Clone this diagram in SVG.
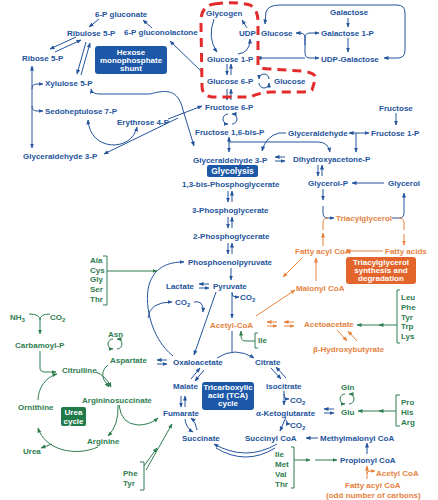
<svg xmlns="http://www.w3.org/2000/svg" width="438" height="500" viewBox="0 0 438 500">
<style>
text{font-family:"Liberation Sans",Arial,sans-serif;font-weight:bold;font-size:8px}
.b{fill:#24549c}.g{fill:#2e7d50}.o{fill:#e5823f}.w{fill:#fff;text-anchor:middle}
.lb{stroke:#24549c;fill:none;stroke-width:1}
.lg{stroke:#2e7d50;fill:none;stroke-width:1}
.lo{stroke:#e5823f;fill:none;stroke-width:1}
.lb.e{marker-end:url(#ab)}.lb.s{marker-start:url(#ab)}
.lg.e{marker-end:url(#ag)}
.lo.e{marker-end:url(#ao)}
.sub{font-size:6px}
</style>
<defs>
<marker id="ab" viewBox="0 0 10 10" refX="9" refY="5" markerWidth="5" markerHeight="5" markerUnits="userSpaceOnUse" orient="auto-start-reverse"><path d="M0,1 L10,5 L0,9 Z" fill="#24549c"/></marker>
<marker id="ag" viewBox="0 0 10 10" refX="9" refY="5" markerWidth="5" markerHeight="5" markerUnits="userSpaceOnUse" orient="auto-start-reverse"><path d="M0,1 L10,5 L0,9 Z" fill="#2e7d50"/></marker>
<marker id="ao" viewBox="0 0 10 10" refX="9" refY="5" markerWidth="5" markerHeight="5" markerUnits="userSpaceOnUse" orient="auto-start-reverse"><path d="M0,1 L10,5 L0,9 Z" fill="#e5823f"/></marker>
<g id="vdB"><path class="lb e" d="M-2,0 L-2,11"/><path class="lb e" d="M2,11 L2,0"/></g>
<g id="hpB"><path class="lb e" d="M10,-2 L0,-2"/><path class="lb e" d="M0,2 L10,2"/></g>
<g id="hpO"><path class="lo e" d="M10,-2 L0,-2"/><path class="lo e" d="M0,2 L10,2"/></g>
<g id="crB"><path class="lb e" d="M-2,-5 A5,5 0 0 0 -2,5"/><path class="lb e" d="M2,5 A5,5 0 0 0 2,-5"/></g>
<g id="crG"><path class="lg e" d="M-2,-5 A5,5 0 0 0 -2,5"/><path class="lg e" d="M2,5 A5,5 0 0 0 2,-5"/></g>
</defs>
<rect width="438" height="500" fill="#fff"/>

<g id="connectors">
<!-- pentose phosphate -->
<path class="lb e" d="M152,28 L143,20"/>
<path class="lb e" d="M99,19 L89,27"/>
<path class="lb e" d="M76,37 L50,49"/>
<path class="lb e" d="M55,52 L81,40"/>
<path class="lb e" d="M86,42 L77,74"/>
<path class="lb e" d="M81,75 L90,43"/>
<path class="lb e s" d="M32,66 L32,148"/>
<path class="lb e" d="M32,89 Q32,84 37,84 L43,84"/>
<path class="lb e" d="M32,106 Q32,111 37,111 L43,111"/>
<path class="lb e s" d="M88,120 C90,152 132,152 137,127"/>
<path class="lb e" d="M178,118 L104,154"/>
<path class="lb e" d="M168,119 L202,106"/>
<path class="lb e s" d="M91,89 Q92,94 100,94 L150,94 C165,90 178,88 183,110 L194,146"/>
<path class="lb e" d="M203,73 L170,41"/>
<!-- glycogen / galactose -->
<path class="lb e" d="M214,19 Q207,38 217,52"/>
<path class="lb e" d="M238,54 Q250,53 250,39"/>
<path class="lb e" d="M247,28 L242,20"/>
<use href="#vdB" x="229" y="64"/>
<use href="#crB" transform="translate(264,81) rotate(90)"/>
<use href="#vdB" x="229" y="89"/>
<use href="#crB" x="230" y="119"/>
<path class="lb e" d="M305,45 L305,38 Q305,33 300,33 L296,33"/>
<path class="lb e" d="M305,38 Q305,33 310,33 L319,33"/>
<path class="lb e" d="M305,38 L305,53 Q305,58 310,58 L319,58"/>
<path class="lb e" d="M305,58 L257,58"/>
<path class="lb e" d="M348,18 L348,27"/>
<path class="lb e" d="M348,38 L348,52"/>
<path class="lb e s" d="M384,58 L398,58 Q405,58 405,50 L405,13 Q405,5 397,5 L280,5 Q268,5 266,12 L265,24"/>
<!-- fructose / glycolysis -->
<path class="lb e" d="M396,113 L396,125"/>
<path class="lb e" d="M356,133 L349,133"/>
<path class="lb e" d="M356,133 L369,133"/>
<path class="lb e" d="M356,133 L356,152"/>
<path class="lb e s" d="M229,137 L229,152"/>
<path class="lb e" d="M229,142 L318,142 Q328,142 330,152"/>
<path class="lb e" d="M286,133 L279,133 Q266,136 262,151"/>
<use href="#hpB" x="275" y="159"/>
<use href="#vdB" x="320" y="165"/>
<path class="lb e" d="M384,183 L352,183"/>
<path class="lb e" d="M323,189 L323,200"/>
<path class="lb e" d="M323,206 L323,213 Q323,218 328,218 L334,218"/>
<path class="lb e" d="M392,218 L399,218 Q404,218 404,213 L404,193"/>
<use href="#vdB" x="230" y="191"/>
<use href="#vdB" x="230" y="217"/>
<use href="#vdB" x="230" y="243"/>
<path class="lb e" d="M231,268 L231,280"/>
<use href="#hpB" x="199" y="286"/>
<path class="lb e" d="M232,292 L232,318"/>
<path class="lb e" d="M232,293 Q232,297 236,297 L239,297"/>
<path class="lb e" d="M216,292 L194,355"/>
<path class="lb e" d="M194,302 Q204,300 203,312"/>
<path class="lb e" d="M173,356 C150,338 143,300 150,282 C156,267 168,262 184,262"/>
<path class="lb e" d="M148,318 Q149,302 172,302"/>
<!-- TCA -->
<path class="lb" d="M232,331 L232,352"/>
<path class="lb e" d="M217,358 Q235,346 254,358"/>
<path class="lb e" d="M271,368 L281,379"/>
<path class="lb e" d="M286,378 L276,367"/>
<path class="lb e" d="M191,379 L200,368"/>
<path class="lb e" d="M204,370 L195,381"/>
<use href="#vdB" x="183" y="396"/>
<path class="lb e" d="M185,419 Q186,428 193,432"/>
<path class="lb e" d="M197,430 Q196,422 191,418"/>
<path class="lb e" d="M284,391 L284,405"/>
<path class="lb e" d="M284,394 Q284,399 289,399"/>
<path class="lb e" d="M286,417 L280,431"/>
<path class="lb e" d="M286,420 Q287,424 290,424"/>
<path class="lb e" d="M277,444 Q246,462 214,444"/>
<path class="lb" d="M275,448 Q246,466 216,448"/>
<path class="lb e" d="M318,438 L306,438"/>
<path class="lb e" d="M367,454 L367,443"/>
<use href="#hpB" x="157" y="362"/>
<use href="#hpB" x="324" y="411"/>
<!-- green -->
<path class="lg" d="M103,256 L107,256 L107,305 L103,305"/>
<path class="lg e" d="M107,271 L157,271"/>
<path class="lg" d="M29,314 Q40,314 40,320 M50,314 Q40,314 40,320"/>
<path class="lg e" d="M40,320 L40,334"/>
<path class="lg e" d="M40,351 L40,368 Q40,372 45,372 L56,372"/>
<use href="#crG" x="115" y="344"/>
<path class="lg e" d="M108,365 Q100,371 104,380 L109,387"/>
<path class="lg e" d="M96,372 Q106,376 111,387"/>
<path class="lg e" d="M118,405 Q119,425 108,436"/>
<path class="lg e" d="M119,405 Q121,424 138,425 Q150,425 158,418"/>
<path class="lg e" d="M98,447 C75,457 45,450 38,428"/>
<path class="lg e" d="M52,444 L41,448"/>
<path class="lg e" d="M38,400 C38,388 46,377 57,374"/>
<path class="lg" d="M258,333 L255,333 L255,348 L258,348"/>
<path class="lg e" d="M255,341 L246,341 Q241,341 241,336 L241,331"/>
<path class="lg" d="M400,290 L397,290 L397,343 L400,343"/>
<path class="lg e" d="M397,325 L379,325"/>
<path class="lg e" d="M381,325 L357,325"/>
<use href="#crG" x="347" y="399"/>
<path class="lg" d="M400,395 L396,395 L396,426 L400,426"/>
<path class="lg e" d="M396,411 L379,411"/>
<path class="lg e" d="M381,411 L358,411"/>
<path class="lg" d="M140,462 L144,462 L144,490 L140,490"/>
<path class="lg e" d="M144,466 L157,448"/>
<path class="lg e" d="M146,470 L172,424"/>
<path class="lg" d="M291,447 L294,447 L294,488 L291,488"/>
<path class="lg e" d="M294,460 L310,460"/>
<path class="lg e" d="M315,460 L337,460"/>
<!-- orange -->
<path class="lo" d="M323,230 L323,223 Q323,218 328,218"/>
<path class="lo" d="M399,218 Q404,218 404,223 L404,230"/>
<path class="lo e" d="M323,246 L323,233"/>
<path class="lo e" d="M404,234 L404,245"/>
<path class="lo e" d="M383,251 L346,251"/>
<path class="lo e" d="M316,281 L316,258"/>
<path class="lo e" d="M256,316 L295,290"/>
<path class="lo e" d="M302,258 L283,277"/>
<use href="#hpO" x="267" y="324"/>
<use href="#hpO" x="284" y="324"/>
<path class="lo e" d="M337,330 L347,341"/>
<path class="lo e" d="M357,341 L348,331"/>
<path class="lo e" d="M367,479 L367,466"/>
<path class="lo e" d="M367,474 Q367,471 370,471 L375,471"/>
</g>

<path id="highlight" d="M214,4 Q232,1 250,5 Q258,9 258,22 L258,66 Q260,69 270,69 L302,71 Q318,73 315,80 L312,90 Q311,92 300,92 L270,92 Q258,93 250,97 L212,97 Q202,96 202,86 L201,24 Q200,6 214,4 Z" fill="none" stroke="#e32b2b" stroke-width="3" stroke-dasharray="9 6"/>

<g id="n-6pgluconate"><text class="b" x="95" y="17">6-P gluconate</text></g>
<g id="n-ribulose5p"><text class="b" x="67" y="36">Ribulose 5-P</text></g>
<g id="n-6pgluconolactone"><text class="b" x="124" y="35">6-P gluconolactone</text></g>
<g id="n-ribose5p"><text class="b" x="22" y="61">Ribose 5-P</text></g>
<g id="n-hms"><rect x="95" y="46" width="72" height="28" rx="3" fill="#1d58a8"/><text class="w" x="131" y="55">Hexose</text><text class="w" x="131" y="63">monophosphate</text><text class="w" x="131" y="71">shunt</text></g>
<g id="n-xylulose5p"><text class="b" x="45" y="86">Xylulose 5-P</text></g>
<g id="n-sedoheptulose7p"><text class="b" x="45" y="114">Sedoheptulose 7-P</text></g>
<g id="n-erythrose4p"><text class="b" x="117" y="125">Erythrose 4-P</text></g>
<g id="n-gald3p-left"><text class="b" x="23" y="159">Glyceraldehyde 3-P</text></g>
<g id="n-glycogen"><text class="b" x="206" y="16">Glycogen</text></g>
<g id="n-udpglucose"><text class="b" x="239" y="36">UDP</text><text class="b" x="261" y="36">Glucose</text></g>
<g id="n-glucose1p"><text class="b" x="207" y="62">Glucose 1-P</text></g>
<g id="n-glucose6p"><text class="b" x="207" y="84">Glucose 6-P</text></g>
<g id="n-glucose"><text class="b" x="274" y="84">Glucose</text></g>
<g id="n-galactose"><text class="b" x="330" y="15">Galactose</text></g>
<g id="n-galactose1p"><text class="b" x="321" y="36">Galactose 1-P</text></g>
<g id="n-udpgalactose"><text class="b" x="321" y="62">UDP-Galactose</text></g>
<g id="n-fructose6p"><text class="b" x="205" y="110">Fructose 6-P</text></g>
<g id="n-fructose"><text class="b" x="379" y="111">Fructose</text></g>
<g id="n-fructose16bp"><text class="b" x="195" y="135">Fructose 1,6-bis-P</text></g>
<g id="n-glyceraldehyde"><text class="b" x="288" y="136">Glyceraldehyde</text></g>
<g id="n-fructose1p"><text class="b" x="371" y="136">Fructose 1-P</text></g>
<g id="n-gald3p"><text class="b" x="193" y="163">Glyceraldehyde 3-P</text></g>
<g id="n-dhap"><text class="b" x="293" y="162">Dihydroxyacetone-P</text></g>
<g id="n-glycolysis"><rect x="207" y="165" width="51" height="12" rx="2" fill="#1d58a8"/><text class="w" x="232.5" y="174" style="font-size:8.5px">Glycolysis</text></g>
<g id="n-13bpg"><text class="b" x="182" y="187">1,3-bis-Phosphoglycerate</text></g>
<g id="n-glycerolp"><text class="b" x="308" y="186">Glycerol-P</text></g>
<g id="n-glycerol"><text class="b" x="388" y="186">Glycerol</text></g>
<g id="n-3pg"><text class="b" x="192" y="213">3-Phosphoglycerate</text></g>
<g id="n-2pg"><text class="b" x="193" y="239">2-Phosphoglycerate</text></g>
<g id="n-pep"><text class="b" x="188" y="265">Phosphoenolpyruvate</text></g>
<g id="n-lactate"><text class="b" x="166" y="289">Lactate</text></g>
<g id="n-pyruvate"><text class="b" x="213" y="289">Pyruvate</text></g>
<g id="n-co2-pyr"><text class="b" x="240" y="300">CO<tspan class="sub" dy="2">2</tspan></text></g>
<g id="n-co2-left"><text class="b" x="175" y="305">CO<tspan class="sub" dy="2">2</tspan></text></g>
<g id="n-oaa"><text class="b" x="173" y="365">Oxaloacetate</text></g>
<g id="n-citrate"><text class="b" x="255" y="365">Citrate</text></g>
<g id="n-malate"><text class="b" x="173" y="389">Malate</text></g>
<g id="n-isocitrate"><text class="b" x="266" y="389">Isocitrate</text></g>
<g id="n-co2-ic"><text class="b" x="290" y="403">CO<tspan class="sub" dy="2">2</tspan></text></g>
<g id="n-fumarate"><text class="b" x="163" y="416">Fumarate</text></g>
<g id="n-akg"><text class="b" x="256" y="416">α-Ketoglutarate</text></g>
<g id="n-co2-akg"><text class="b" x="290" y="428">CO<tspan class="sub" dy="2">2</tspan></text></g>
<g id="n-succinate"><text class="b" x="182" y="441">Succinate</text></g>
<g id="n-succinylcoa"><text class="b" x="245" y="441">Succinyl CoA</text></g>
<g id="n-methylmalonyl"><text class="b" x="320" y="441">Methylmalonyl CoA</text></g>
<g id="n-propionyl"><text class="b" x="340" y="463">Propionyl CoA</text></g>
<g id="n-tca"><rect x="202" y="382" width="52" height="28" rx="3" fill="#1d58a8"/><text class="w" x="228" y="390">Tricarboxylic</text><text class="w" x="228" y="398">acid (TCA)</text><text class="w" x="228" y="406">cycle</text></g>

<g id="n-tag"><text class="o" x="336" y="221">Triacylglycerol</text></g>
<g id="n-fattyacylcoa"><text class="o" x="295" y="254">Fatty acyl CoA</text></g>
<g id="n-fattyacids"><text class="o" x="385" y="254">Fatty acids</text></g>
<g id="n-tagbox"><rect x="346" y="257" width="70" height="27" rx="3" fill="#e3652c"/><text class="w" x="381" y="265">Triacylglycerol</text><text class="w" x="381" y="273">synthesis and</text><text class="w" x="381" y="281">degradation</text></g>
<g id="n-malonylcoa"><text class="o" x="296" y="291">Malonyl CoA</text></g>
<g id="n-acetylcoa"><text class="o" x="210" y="328">Acetyl-CoA</text></g>
<g id="n-acetoacetate"><text class="o" x="304" y="327">Acetoacetate</text></g>
<g id="n-bhb"><text class="o" x="313" y="352">β-Hydroxybutyrate</text></g>
<g id="n-acetylcoa2"><text class="o" x="376" y="476">Acetyl CoA</text></g>
<g id="n-fattyacyl-odd"><text class="o" x="345" y="488">Fatty acyl CoA</text><text class="o" x="326" y="498">(odd number of carbons)</text></g>

<g id="n-aa-pyr"><text class="g" x="90" y="263">Ala</text><text class="g" x="90" y="273">Cys</text><text class="g" x="90" y="282">Gly</text><text class="g" x="90" y="292">Ser</text><text class="g" x="90" y="302">Thr</text></g>
<g id="n-nh3"><text class="g" x="10" y="320">NH<tspan class="sub" dy="2">3</tspan></text></g>
<g id="n-co2-urea"><text class="g" x="50" y="320">CO<tspan class="sub" dy="2">2</tspan></text></g>
<g id="n-carbamoylp"><text class="g" x="15" y="348">Carbamoyl-P</text></g>
<g id="n-asn"><text class="g" x="108" y="337">Asn</text></g>
<g id="n-aspartate"><text class="g" x="110" y="363">Aspartate</text></g>
<g id="n-citrulline"><text class="g" x="62" y="373">Citrulline</text></g>
<g id="n-argsucc"><text class="g" x="82" y="403">Argininosuccinate</text></g>
<g id="n-ornithine"><text class="g" x="18" y="410">Ornithine</text></g>
<g id="n-ureacycle"><rect x="61" y="407" width="25" height="19" rx="2" fill="#217a4a"/><text class="w" x="73.5" y="415">Urea</text><text class="w" x="73.5" y="424">cycle</text></g>
<g id="n-arginine"><text class="g" x="87" y="444">Arginine</text></g>
<g id="n-urea"><text class="g" x="23" y="454">Urea</text></g>
<g id="n-phetyr"><text class="g" x="123" y="476">Phe</text><text class="g" x="123" y="486">Tyr</text></g>
<g id="n-ile"><text class="g" x="258" y="343">Ile</text></g>
<g id="n-aa-acac"><text class="g" x="401" y="300">Leu</text><text class="g" x="401" y="310">Phe</text><text class="g" x="401" y="320">Tyr</text><text class="g" x="401" y="329">Trp</text><text class="g" x="401" y="339">Lys</text></g>
<g id="n-gln"><text class="g" x="341" y="390">Gln</text></g>
<g id="n-glu"><text class="g" x="341" y="415">Glu</text></g>
<g id="n-aa-glu"><text class="g" x="401" y="405">Pro</text><text class="g" x="401" y="415">His</text><text class="g" x="401" y="425">Arg</text></g>
<g id="n-aa-prop"><text class="g" x="275" y="457">Ile</text><text class="g" x="275" y="467">Met</text><text class="g" x="275" y="477">Val</text><text class="g" x="275" y="487">Thr</text></g>
</svg>
